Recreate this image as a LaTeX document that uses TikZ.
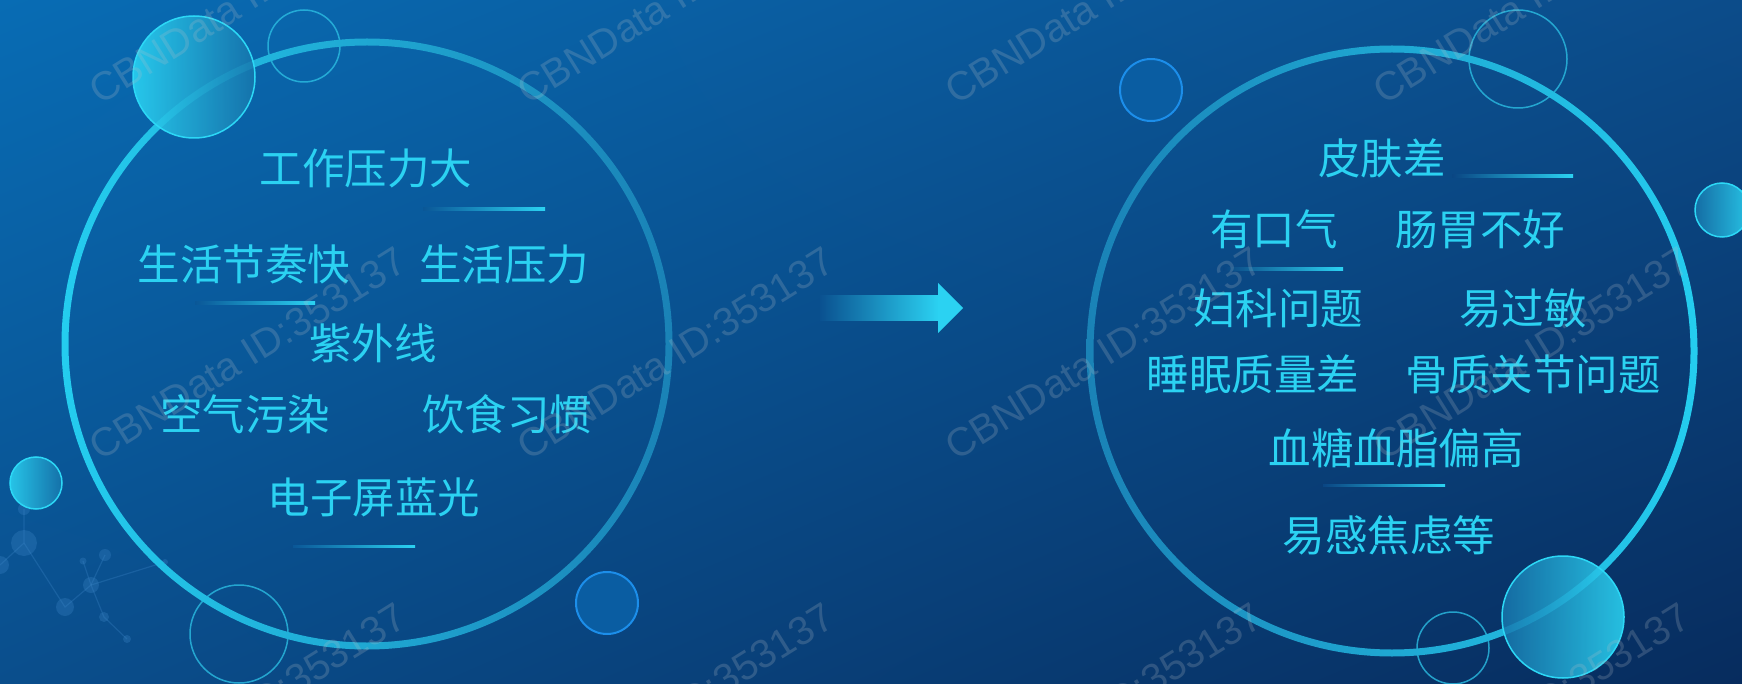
\documentclass[tikz,border=0pt]{standalone}
\usepackage{fontspec}
\newfontfamily\cjk{Noto Sans CJK SC}
\newfontfamily\wmfont{Liberation Sans}
\usetikzlibrary{shadings}
\definecolor{bgUL}{HTML}{086CB4}
\definecolor{bgUR}{HTML}{0C4C8A}
\definecolor{bgLL}{HTML}{0A4E8C}
\definecolor{bgLR}{HTML}{072C5E}
\definecolor{txtc}{HTML}{2BD2F2}
\definecolor{ringB}{HTML}{24CDEF}
\definecolor{ringD}{HTML}{1A82B6}
\definecolor{bubB}{HTML}{2CD8F6}
\definecolor{bubD}{HTML}{1775AC}
\definecolor{dotF}{HTML}{0A5DA2}
\definecolor{dotE}{HTML}{1C8EEA}
\definecolor{olc}{HTML}{2BBDE2}
\definecolor{wmc}{HTML}{B8C0C8}
\definecolor{netc}{HTML}{3C86C8}
\definecolor{ulL}{HTML}{0A5797}
\definecolor{ulR}{HTML}{0A4683}
\definecolor{arbg}{HTML}{0A5190}
\tikzset{
  lbl/.style={font=\cjk\fontsize{42.5}{44}\selectfont, text=txtc, inner sep=0pt},
  wm/.style={font=\wmfont\fontsize{40}{40}\selectfont, text=wmc, text opacity=0.22, rotate=32, anchor=base west, inner sep=0pt},
  ulineL/.style={left color=ulL, right color=txtc},
  ulineR/.style={left color=ulR, right color=txtc},
  bubL/.style={left color=bubB, right color=bubD, fill opacity=0.85},
  bubR/.style={left color=bubD, right color=bubB, fill opacity=0.85},
  bubedge/.style={draw=bubB, line width=1.5pt},
  bluedot/.style={fill=dotF, draw=dotE, line width=2pt},
  olcirc/.style={draw=olc, draw opacity=0.8, line width=1.5pt},
  netline/.style={draw=netc, draw opacity=0.3, line width=1.2pt},
  netdot/.style={fill=netc, fill opacity=0.3},
}
\begin{document}
\begin{tikzpicture}[x=1pt,y=-1pt]
\useasboundingbox (0,0) rectangle (1742,684);
% background
\shade[upper left=bgUL, upper right=bgUR, lower left=bgLL, lower right=bgLR] (0,0) rectangle (1742,684);

% molecule network (bottom left)
\coordinate (n1) at (24,543);
\coordinate (n2) at (0,565);
\coordinate (n3) at (24,509);
\coordinate (n4) at (65,607);
\coordinate (n5) at (91,585);
\coordinate (n6) at (105,555);
\coordinate (n7) at (83,561);
\coordinate (n8) at (104,617);
\coordinate (n9) at (127,639);
\coordinate (n10) at (165,562);
\draw[netline] (n2) -- (n1) -- (n3);
\draw[netline] (n1) -- (n4) -- (n5) -- (n6);
\draw[netline] (n5) -- (n7);
\draw[netline] (n5) -- (n8) -- (n9);
\draw[netline] (n5) -- (n10);
\fill[netdot] (n1) circle[radius=13];
\fill[netdot] (n2) circle[radius=9];
\fill[netdot] (n3) circle[radius=6];
\fill[netdot] (n4) circle[radius=9];
\fill[netdot] (n5) circle[radius=8];
\fill[netdot] (n6) circle[radius=6];
\fill[netdot] (n7) circle[radius=3.5];
\fill[netdot] (n8) circle[radius=5];
\fill[netdot] (n9) circle[radius=4];
\fill[netdot] (n10) circle[radius=3];

% decorative circles left
\draw[olcirc] (304,46) circle[radius=36];
\draw[olcirc] (239,634) circle[radius=49];
\path[bluedot] (607,603) circle[radius=31];

% decorative circles right
\path[bluedot] (1151,90) circle[radius=31];
\draw[olcirc] (1518,59) circle[radius=49];
\draw[olcirc] (1453,648) circle[radius=36];

% rings
\shade[even odd rule, left color=ringB, middle color=ringB!75!ringD, right color=ringD]
  (367,344) circle[radius=305.5] (367,344) circle[radius=298.5];
\shade[even odd rule, left color=ringD, middle color=ringB!75!ringD, right color=ringB]
  (1392,351) circle[radius=305.5] (1392,351) circle[radius=298.5];

% filled bubbles
\shade[bubL] (194,77) circle[radius=61];
\draw[bubedge] (194,77) circle[radius=61];
\shade[bubL] (36,483) circle[radius=26];
\draw[bubedge] (36,483) circle[radius=26];
\shade[bubR] (1722,210) circle[radius=27];
\draw[bubedge] (1722,210) circle[radius=27];
\shade[bubR] (1563,617) circle[radius=61];
\draw[bubedge] (1563,617) circle[radius=61];

% arrow
\coordinate (arS) at (820,308);
\coordinate (arT) at (963,308);
\shade[left color=arbg, right color=txtc] (820,296) rectangle (939,321);
\fill[txtc] (938,283) -- (arT) -- (938,333) -- cycle;

% left texts
\node[lbl] (l1) at (366,168) {工作压力大};
\node[lbl] (l2) at (244,264) {生活节奏快};
\node[lbl] (l3) at (504,264) {生活压力};
\node[lbl] (l4) at (373,343) {紫外线};
\node[lbl] (l5) at (245,414) {空气污染};
\node[lbl] (l6) at (507,414) {饮食习惯};
\node[lbl] (l7) at (374,497) {电子屏蓝光};
\shade[ulineL] (423,208) rectangle (545,210.5);
\shade[ulineL] (195,302) rectangle (315,304.5);
\shade[ulineL] (293,545) rectangle (415,547.5);

% right texts
\node[lbl] (r1) at (1382,158) {皮肤差};
\node[lbl] (r2) at (1274,229) {有口气};
\node[lbl] (r3) at (1480,229) {肠胃不好};
\node[lbl] (r4) at (1278,308) {妇科问题};
\node[lbl] (r5) at (1523,308) {易过敏};
\node[lbl] (r6) at (1253,374) {睡眠质量差};
\node[lbl] (r7) at (1533,374) {骨质关节问题};
\node[lbl] (r8) at (1396,448) {血糖血脂偏高};
\node[lbl] (r9) at (1389,535) {易感焦虑等};
\shade[ulineR] (1452,175) rectangle (1573,177.5);
\shade[ulineR] (1223,268) rectangle (1343,270.5);
\shade[ulineR] (1323,484) rectangle (1445,486.5);

% watermarks
\foreach \c in {0,1,2,3}{
  \foreach \r in {0,1,2}{
    \node[wm] (wm-\c-\r) at ({100+428*\c},{106+356*\r}) {CBNData ID:353137};
  }
}
\end{tikzpicture}
\end{document}
